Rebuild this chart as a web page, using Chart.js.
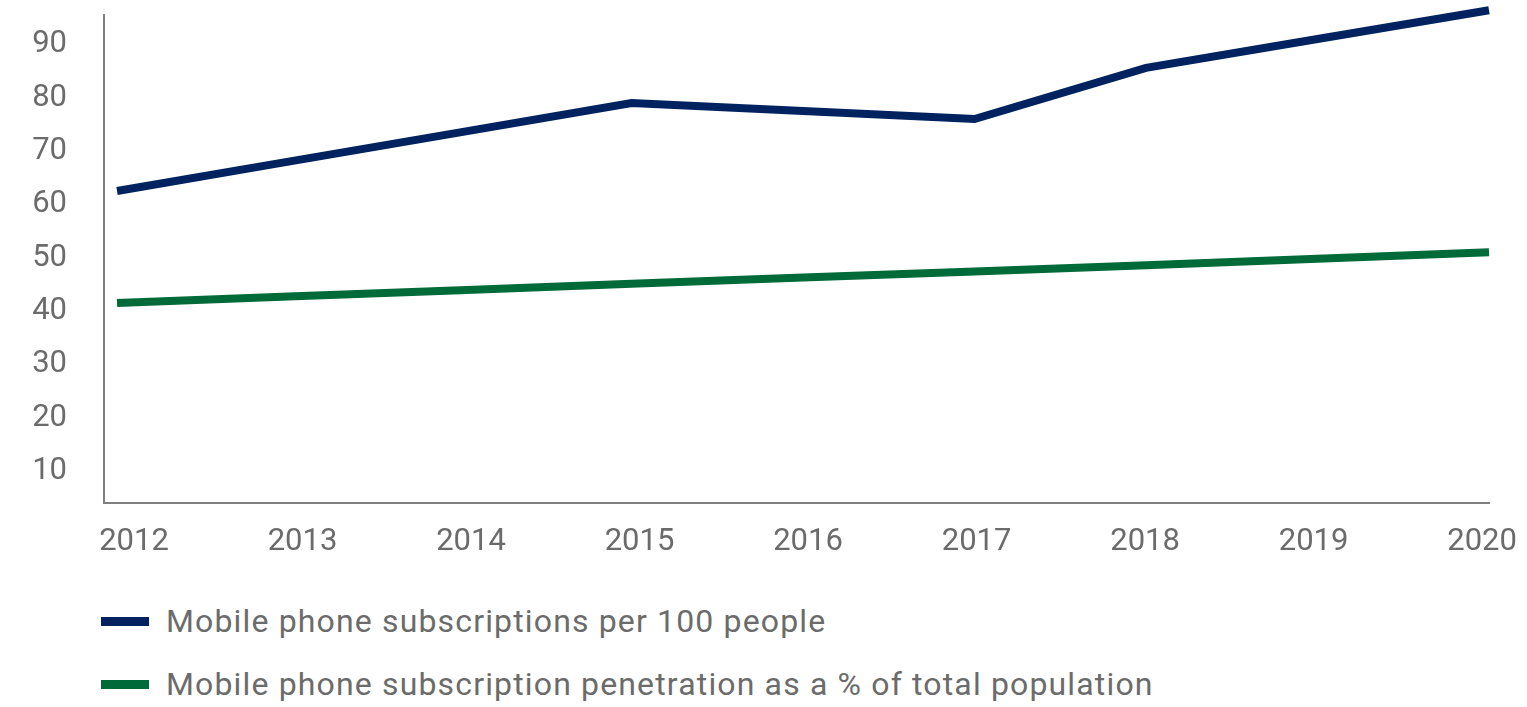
<!DOCTYPE html>
<html>
<head>
<meta charset="utf-8">
<script src="https://cdn.jsdelivr.net/npm/chart.js@4.4.1/dist/chart.umd.min.js"></script>
<style>
  html, body { margin: 0; padding: 0; background: #ffffff; }
  #wrap { position: relative; width: 1527px; height: 707px; }
  #c { position: absolute; left: 0; top: 0; }
  .leg { position: absolute; left: 101px; height: 40px; display: flex; align-items: center;
         font-family: Roboto, "Liberation Sans", sans-serif; font-size: 32px; letter-spacing: 1.15px;
         color: #6b6b6b; white-space: nowrap; }
  .leg .sw { width: 48px; height: 9px; margin-right: 17px; }
</style>
</head>
<body>
<div id="wrap">
  <canvas id="c" width="1527" height="570"></canvas>
  <div id="legend"></div>
</div>
<script>
// ---- data ----
const years = [2012, 2013, 2014, 2015, 2016, 2017, 2018, 2019, 2020];
const subscriptionsPer100 = [62.0, 67.5, 73.0, 78.5, 77.0, 75.5, 85.1, 90.5, 95.9];
const penetrationPct = [41.0, 42.2, 43.4, 44.6, 45.8, 46.9, 48.1, 49.3, 50.5];
const yTickValues = [10, 20, 30, 40, 50, 60, 70, 80, 90];
const seriesLabels = [
  'Mobile phone subscriptions per 100 people',
  'Mobile phone subscription penetration as a % of total population'
];
const seriesColors = ['#00235f', '#006b38'];

const FONT = 'Roboto, "Liberation Sans", sans-serif';
const TXT = '#6b6b6b';
const AXIS = '#7f7f7f';

const toPoints = arr => years.map((yr, i) => ({ x: yr, y: arr[i] }));
const noPad = s => { s.paddingTop = 0; s.paddingBottom = 0; s.paddingLeft = 0; s.paddingRight = 0; };

const chart = new Chart(document.getElementById('c'), {
  type: 'line',
  data: {
    datasets: [
      { label: seriesLabels[0], data: toPoints(subscriptionsPer100), borderColor: seriesColors[0],
        backgroundColor: seriesColors[0], borderWidth: 8, pointRadius: 0, tension: 0,
        borderCapStyle: 'butt', borderJoinStyle: 'miter', clip: false, xAxisID: 'x', yAxisID: 'y' },
      { label: seriesLabels[1], data: toPoints(penetrationPct), borderColor: seriesColors[1],
        backgroundColor: seriesColors[1], borderWidth: 8, pointRadius: 0, tension: 0,
        borderCapStyle: 'butt', borderJoinStyle: 'miter', clip: false, xAxisID: 'x', yAxisID: 'y' }
    ]
  },
  options: {
    responsive: false,
    animation: false,
    devicePixelRatio: 1,
    layout: { padding: { top: 15, right: 38, bottom: 0, left: 0 } },
    plugins: { legend: { display: false }, tooltip: { enabled: false } },
    scales: {
      x: {
        type: 'linear', position: 'bottom', weight: 0,
        min: 2011.924, max: 2020,
        grid: { display: false, drawTicks: false },
        border: { display: true, color: AXIS, width: 2 },
        ticks: { display: false },
        afterFit: s => { s.height = 0; noPad(s); }
      },
      xl: {
        type: 'linear', position: 'bottom', weight: 1,
        min: 2011.822, max: 2020.041,
        grid: { display: false, drawTicks: false },
        border: { display: false },
        afterBuildTicks: s => { s.ticks = years.map(v => ({ value: v })); },
        afterFit: s => { s.height = 67; noPad(s); },
        ticks: { color: TXT, font: { family: FONT, size: 31 }, padding: 21, maxRotation: 0,
                 autoSkip: false, callback: v => String(v) }
      },
      y: {
        type: 'linear', position: 'left',
        min: 3.5, max: 95,
        grid: { display: false, drawTicks: false },
        border: { display: true, color: AXIS, width: 2 },
        afterBuildTicks: s => { s.ticks = yTickValues.map(v => ({ value: v })); },
        afterFit: s => { s.width = 104; noPad(s); },
        ticks: { color: TXT, font: { family: FONT, size: 31 }, padding: 37, labelOffset: 3,
                 callback: v => String(v) }
      }
    }
  }
});

// legend built from the dataset labels/colours
const legend = document.getElementById('legend');
const rowCenters = [621, 684];
seriesLabels.forEach((lbl, i) => {
  const row = document.createElement('div');
  row.className = 'leg';
  row.style.top = (rowCenters[i] - 20) + 'px';
  const sw = document.createElement('div');
  sw.className = 'sw';
  sw.style.background = seriesColors[i];
  const t = document.createElement('span');
  t.textContent = lbl;
  row.appendChild(sw);
  row.appendChild(t);
  legend.appendChild(row);
});
</script>
</body>
</html>
